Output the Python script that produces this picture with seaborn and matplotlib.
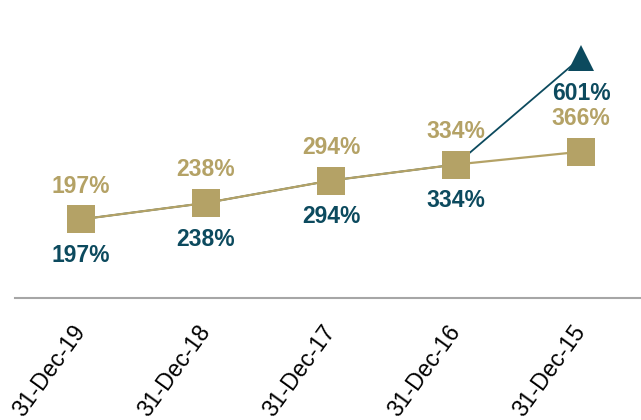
import matplotlib
matplotlib.use("Agg")
import matplotlib.pyplot as plt
import seaborn as sns
import pandas as pd

categories = ["31-Dec-19", "31-Dec-18", "31-Dec-17", "31-Dec-16", "31-Dec-15"]
series_a = [197, 238, 294, 334, 601]   # dark teal
series_b = [197, 238, 294, 334, 366]   # tan
labels_a = ["197%", "238%", "294%", "334%", "601%"]
labels_b = ["197%", "238%", "294%", "334%", "366%"]

TEAL = "#0C4A5E"
TAN = "#B4A266"

sns.set_theme(style="white")
plt.rcParams['font.family'] = ['Liberation Sans', 'DejaVu Sans']

df = pd.DataFrame({"x": range(len(categories)), "a": series_a, "b": series_b})

fig = plt.figure(figsize=(6.41, 4.20), dpi=100)
ax = fig.add_axes([0.023, 0.29, 0.977, 0.71])

sns.lineplot(data=df, x="x", y="a", ax=ax, color=TEAL, linewidth=1.3,
             marker="^", markersize=19, markevery=[4], markeredgewidth=0, zorder=2)
sns.lineplot(data=df, x="x", y="b", ax=ax, color=TAN, linewidth=1.6,
             marker="s", markersize=20, markeredgewidth=0, zorder=3)

for i in range(len(categories)):
    ax.annotate(labels_b[i], (i, series_b[i]), xytext=(0, 24), textcoords="offset points",
                ha="center", va="center", color=TAN, fontsize=16.5, fontweight="bold")
    ax.annotate(labels_a[i], (i, series_a[i]), xytext=(0, -26), textcoords="offset points",
                ha="center", va="center", color=TEAL, fontsize=16.5, fontweight="bold")

ax.set_xlim(-0.53, 4.48)
ax.set_ylim(0, 745)
ax.set_xticks(range(len(categories)))
ax.set_xticklabels(categories, rotation=54, ha="right", va="center",
                   rotation_mode="anchor", fontsize=16.5, color="black")
ax.tick_params(axis="x", length=0, pad=21)
ax.set_yticks([])
ax.set_xlabel("")
ax.set_ylabel("")
for s in ["top", "right", "left"]:
    ax.spines[s].set_visible(False)
ax.spines["bottom"].set_color("#A6A6A6")
ax.spines["bottom"].set_linewidth(1.5)

fig.savefig("out.png", dpi=100)
